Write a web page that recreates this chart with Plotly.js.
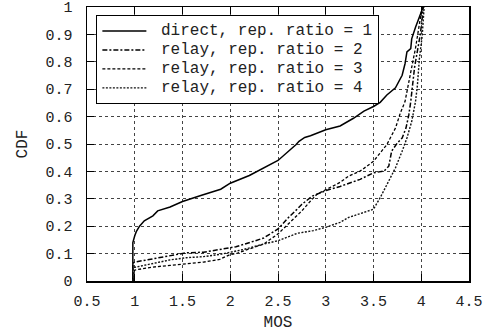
<!DOCTYPE html>
<html>
<head>
<meta charset="utf-8">
<script src="https://cdn.plot.ly/plotly-3.0.1.min.js"></script>
<style>html,body{margin:0;padding:0;background:#fff;}#chart{width:490px;height:335px;}</style>
</head>
<body>
<div id="chart"></div>
<script>
// ---- data (MOS vs CDF) ----
const seriesNames = [
  "direct, rep. ratio = 1",
  "relay, rep. ratio = 2",
  "relay, rep. ratio = 3",
  "relay, rep. ratio = 4"
];

const directX = [0.98, 0.98, 1.0, 1.016, 1.05, 1.1, 1.19, 1.24, 1.37, 1.5, 1.7, 1.9, 2.0, 2.2, 2.5, 2.6, 2.69, 2.72, 2.78, 2.84, 3.0, 3.15, 3.29, 3.4, 3.5, 3.57, 3.64, 3.73, 3.8, 3.83, 3.85, 3.89, 3.9, 3.94, 3.97, 4.01, 4.02];
const directY = [0, 0.14, 0.165, 0.18, 0.2, 0.22, 0.238, 0.256, 0.27, 0.29, 0.313, 0.335, 0.357, 0.385, 0.44, 0.47, 0.498, 0.51, 0.524, 0.53, 0.552, 0.566, 0.594, 0.62, 0.637, 0.652, 0.679, 0.705, 0.751, 0.793, 0.836, 0.848, 0.884, 0.926, 0.957, 0.993, 1.0];

const relay2X = [0.98, 0.98, 1.0, 1.19, 1.37, 1.54, 1.72, 1.89, 2.0, 2.06, 2.21, 2.35, 2.5, 2.61, 2.7, 2.75, 2.86, 3.0, 3.15, 3.24, 3.36, 3.5, 3.61, 3.66, 3.69, 3.75, 3.8, 3.84, 3.87, 3.89, 3.91, 3.93, 3.96, 3.99, 4.01, 4.02];
const relay2Y = [0, 0.065, 0.069, 0.081, 0.093, 0.103, 0.105, 0.114, 0.122, 0.125, 0.141, 0.157, 0.19, 0.232, 0.262, 0.28, 0.31, 0.33, 0.345, 0.355, 0.371, 0.395, 0.401, 0.419, 0.474, 0.504, 0.522, 0.558, 0.607, 0.655, 0.72, 0.78, 0.84, 0.9, 0.96, 1.0];

const relay3X = [0.98, 0.98, 1.0, 1.19, 1.37, 1.54, 1.72, 1.89, 2.0, 2.06, 2.21, 2.35, 2.5, 2.63, 2.75, 2.84, 2.91, 3.0, 3.15, 3.24, 3.36, 3.5, 3.64, 3.73, 3.78, 3.83, 3.87, 3.9, 3.94, 3.97, 4.0, 4.02];
const relay3Y = [0, 0.03, 0.04, 0.051, 0.057, 0.063, 0.069, 0.079, 0.097, 0.1, 0.117, 0.135, 0.172, 0.214, 0.256, 0.292, 0.317, 0.333, 0.36, 0.383, 0.401, 0.437, 0.498, 0.558, 0.612, 0.655, 0.72, 0.78, 0.85, 0.92, 0.98, 1.0];

const relay4X = [0.98, 0.98, 1.0, 1.19, 1.37, 1.54, 1.72, 1.89, 2.0, 2.14, 2.35, 2.5, 2.7, 2.87, 3.0, 3.15, 3.24, 3.35, 3.5, 3.57, 3.64, 3.73, 3.8, 3.85, 3.9, 3.94, 3.96, 3.98, 4.01, 4.02, 4.03];
const relay4Y = [0, 0.045, 0.05, 0.065, 0.077, 0.085, 0.089, 0.097, 0.104, 0.115, 0.135, 0.147, 0.174, 0.184, 0.196, 0.214, 0.232, 0.245, 0.262, 0.304, 0.353, 0.413, 0.474, 0.522, 0.582, 0.655, 0.715, 0.81, 0.896, 0.95, 1.0];

const xTickVals = [0.5, 1, 1.5, 2, 2.5, 3, 3.5, 4, 4.5];
const xTickText = ["0.5", "1", "1.5", "2", "2.5", "3", "3.5", "4", "4.5"];
const yTickVals = [0, 0.1, 0.2, 0.3, 0.4, 0.5, 0.6, 0.7, 0.8, 0.9, 1];
const yTickText = ["0", "0.1", "0.2", "0.3", "0.4", "0.5", "0.6", "0.7", "0.8", "0.9", "1"];

const FONT = "Liberation Mono, Courier New, monospace";
const TXT = "#222";
const legendLabel = s => "<span style='font-size:16px'>\u00a0" + s + "</span>";

const traces = [
  {x: directX, y: directY, name: legendLabel(seriesNames[0]), mode: "lines", line: {color: "#000", width: 1.5, dash: "solid"}},
  {x: relay2X, y: relay2Y, name: legendLabel(seriesNames[1]), mode: "lines", line: {color: "#000", width: 1.5, dash: "5px,2px,2px,2px"}},
  {x: relay3X, y: relay3Y, name: legendLabel(seriesNames[2]), mode: "lines", line: {color: "#000", width: 1.3, dash: "3px,2px"}},
  {x: relay4X, y: relay4Y, name: legendLabel(seriesNames[3]), mode: "lines", line: {color: "#111", width: 1.4, dash: "2px,1.5px"}}
];

const axisCommon = {
  showline: true, mirror: "ticks", linecolor: "#000", linewidth: 1.5,
  ticks: "inside", ticklen: 7, tickwidth: 1, tickcolor: "#000",
  showgrid: true, gridcolor: "#444", gridwidth: 1, griddash: "dot",
  zeroline: false, tickmode: "array", ticklabeloverflow: "allow",
  tickfont: {family: FONT, size: 15, color: TXT}
};

const layout = {
  width: 490, height: 335,
  margin: {l: 87, r: 21, t: 7, b: 54, pad: 0},
  paper_bgcolor: "#fff", plot_bgcolor: "#fff",
  showlegend: true,
  xaxis: Object.assign({}, axisCommon, {
    range: [0.5, 4.5], tickvals: xTickVals, ticktext: xTickText,
    ticklabelstandoff: 5,
    title: {text: "MOS", font: {family: FONT, size: 16, color: TXT}, standoff: 6}
  }),
  yaxis: Object.assign({}, axisCommon, {
    range: [0, 1.0001], tickvals: yTickVals, ticktext: yTickText,
    ticklabelstandoff: 10,
    title: {text: "CDF", font: {family: FONT, size: 16, color: TXT}, standoff: 14}
  }),
  legend: {
    x: 0.024, y: 0.97, xanchor: "left", yanchor: "top",
    bgcolor: "#fff", bordercolor: "#000", borderwidth: 1.2,
    font: {family: FONT, size: 11, color: TXT},
    itemwidth: 44, tracegroupgap: 0
  }
};

Plotly.newPlot("chart", traces, layout, {displayModeBar: false, staticPlot: true});
</script>
</body>
</html>
